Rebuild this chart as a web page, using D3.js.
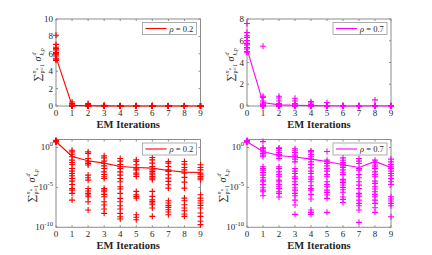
<!DOCTYPE html>
<html>
<head>
<meta charset="utf-8">
<script src="https://cdn.jsdelivr.net/npm/d3@7"></script>
<style>
    body { margin: 0; background: #fff; }
    svg { display: block; }
    svg text { font-family: "Liberation Serif", "Times New Roman", Times, serif; fill: #262626; }
</style>
</head>
<body>
<svg id="chart" width="432" height="255" font-family="Liberation Serif, Times New Roman, serif"></svg>
<script>
// EM iterations on the x axis
var iterations = [0, 1, 2, 3, 4, 5, 6, 7, 8, 9];

// log10 of the error of each run, per iteration (rho = 0.2)
var rho02Runs = [
    [0.72, 0.73, 0.74, 0.76, 0.77, 0.78, 0.79, 0.81, 0.82, 0.83, 0.85, 0.91],
    [-0.34, -0.55, -0.84, -1.17, -1.59, -1.88, -2.13, -2.63, -2.96, -3.26, -3.55, -3.88, -4.21, -4.63, -5.13, -5.34, -5.75, -6.59],
    [-0.55, -0.75, -1.38, -1.8, -2.0, -2.2, -3.46, -3.8, -4.09, -5.13, -5.46, -5.75, -5.96, -6.17, -6.8, -7.84],
    [-1.05, -1.3, -1.71, -2.0, -2.3, -2.63, -3.05, -3.38, -3.67, -3.88, -5.13, -5.34, -5.55, -5.88, -6.17, -6.8, -7.21, -7.71, -8.25],
    [-1.38, -1.71, -2.13, -2.42, -2.63, -3.05, -3.46, -3.88, -4.3, -4.92, -5.21, -5.75, -6.38, -6.8, -7.3, -7.71, -8.25, -8.67, -8.96],
    [-1.55, -1.75, -2.17, -2.59, -2.8, -3.21, -3.42, -3.63, -5.5, -5.92, -6.13, -6.34, -8.42, -8.75, -9.05],
    [-1.25, -1.55, -1.96, -2.38, -2.8, -3.0, -3.21, -3.42, -3.63, -3.84, -4.05, -5.5, -6.13, -6.55, -6.75, -6.96, -7.17, -7.59, -8.63],
    [-1.75, -1.96, -2.38, -2.8, -3.0, -3.42, -3.84, -4.25, -4.67, -5.09, -6.67, -6.96, -7.25, -7.5, -7.8, -8.09, -8.42],
    [-1.75, -2.09, -2.5, -2.8, -3.21, -3.75, -4.34, -5.09, -6.34, -6.67, -7.17, -7.59, -7.92, -8.34, -8.63],
    [-2.17, -2.5, -2.8, -3.21, -3.42, -3.63, -3.84, -4.05, -5.92, -6.34, -6.67, -6.96, -7.25, -7.59, -8.21, -8.63, -9.25, -9.67]
];
var rho02Mean = [0.75, -1.13, -1.67, -1.96, -2.38, -2.5, -2.59, -2.88, -3.09, -3.13];

// log10 of the error of each run, per iteration (rho = 0.7)
var rho07Runs = [
    [0.69, 0.70, 0.72, 0.73, 0.75, 0.76, 0.78, 0.80, 0.81, 0.83, 0.88],
    [0.74, -0.05, -0.1, -0.34, -0.55, -0.75, -0.96, -1.17, -2.42, -2.63, -2.84, -3.13, -3.46, -3.8, -4.09, -4.3, -4.63, -5.05, -5.34, -5.55, -6.05],
    [-0.05, -0.13, -0.34, -0.63, -0.88, -1.05, -1.38, -2.42, -2.63, -3.05, -3.38, -3.67, -4.09, -4.3, -4.63, -4.92, -5.13, -5.55, -5.75, -6.2],
    [-0.15, -0.34, -0.63, -0.96, -1.17, -1.46, -1.8, -2.63, -2.96, -3.26, -3.67, -3.88, -4.3, -4.63, -5.05, -5.34, -5.75, -6.05, -6.59, -7.21, -8.38],
    [-0.4, -0.55, -0.88, -1.17, -1.46, -1.8, -2.13, -2.55, -2.96, -3.26, -3.67, -3.96, -4.3, -4.8, -5.13, -5.34, -5.88, -6.46, -7.84, -8.13, -8.38],
    [-0.5, -1.59, -1.8, -2.0, -2.3, -2.63, -2.96, -3.38, -3.67, -4.3, -4.63, -4.92, -5.34, -5.63, -5.96, -6.38, -8.13],
    [-1.3, -1.6, -1.9, -2.1, -2.3, -2.5, -2.8, -3.1, -3.4, -4.0, -4.2, -4.4, -4.7, -5.0, -5.3, -5.6, -6.2, -6.5, -6.9],
    [-1.38, -1.71, -2.0, -2.63, -2.84, -3.38, -3.8, -4.3, -4.71, -5.13, -5.75, -5.96, -6.17, -6.59, -7.0, -7.3, -7.84, -9.38],
    [-0.25, -1.59, -1.88, -2.2, -2.42, -2.63, -3.05, -3.38, -3.67, -4.21, -4.5, -4.92, -5.21, -5.55, -5.88, -6.17, -6.59, -7.0, -7.55, -8.13],
    [-1.46, -1.8, -2.13, -2.42, -2.63, -2.96, -3.26, -3.55, -3.88, -4.3, -4.63, -6.17, -6.46, -6.71, -7.0, -7.3, -8.67]
];
var rho07Mean = [0.72, -0.5, -1.0, -1.2, -1.46, -1.75, -2.17, -2.5, -1.75, -2.5];

var linTicks02 = [0, 2, 4, 6, 8, 10];
var linTicks07 = [0, 2, 4, 6, 8];
var logTicks = [0, -5, -10];

var svg = d3.select("#chart");
var axisGrey = "#8c8c8c";
var serif = "Liberation Serif, Times New Roman, serif";

function drawPanel(p) {
    var x = d3.scaleLinear().domain([0, 9]).range([p.left, p.right]);
    var y;
    if (p.log) {
        y = d3.scaleLog().domain([1e-10, 10]).range([p.bottom, p.top]);
    } else {
        y = d3.scaleLinear().domain([0, p.ymax]).range([p.bottom, p.top]);
    }
    var g = svg.append("g").attr("font-family", serif);

    // box
    g.append("rect")
        .attr("x", p.left).attr("y", p.top)
        .attr("width", p.right - p.left).attr("height", p.bottom - p.top)
        .attr("fill", "#fff").attr("stroke", axisGrey).attr("stroke-width", 1);

    // x ticks (bottom + top, inward)
    iterations.forEach(function (i) {
        var xx = x(i);
        g.append("line").attr("x1", xx).attr("x2", xx).attr("y1", p.bottom).attr("y2", p.bottom - 2)
            .attr("stroke", axisGrey);
        g.append("line").attr("x1", xx).attr("x2", xx).attr("y1", p.top).attr("y2", p.top + 2)
            .attr("stroke", axisGrey);
        g.append("text").attr("x", xx).attr("y", p.bottom + 10)
            .attr("text-anchor", "middle").attr("font-size", 9).text(i);
    });

    // y ticks
    var yt = p.log ? logTicks.map(function (e) { return Math.pow(10, e); }) : p.ticks;
    yt.forEach(function (v, k) {
        var yy = y(v);
        g.append("line").attr("x1", p.left).attr("x2", p.left + 2).attr("y1", yy).attr("y2", yy)
            .attr("stroke", axisGrey);
        g.append("line").attr("x1", p.right).attr("x2", p.right - 2).attr("y1", yy).attr("y2", yy)
            .attr("stroke", axisGrey);
        var t = g.append("text").attr("x", p.left - 3).attr("y", yy + 3)
            .attr("text-anchor", "end").attr("font-size", 9);
        if (p.log) {
            t.append("tspan").text("10");
            t.append("tspan").attr("dy", -4).attr("font-size", 6.5).text(logTicks[k]);
        } else {
            t.text(v);
        }
    });

    // scatter of the runs
    var runs = [];
    p.runs.forEach(function (vals, i) {
        vals.forEach(function (e) { runs.push({it: i, v: Math.pow(10, e)}); });
    });
    g.selectAll(".run").data(runs).enter().append("path")
        .attr("class", "run")
        .attr("d", function (d) {
            var cx = x(d.it), cy = y(d.v);
            return "M" + (cx - 3) + "," + cy + "H" + (cx + 3) + "M" + cx + "," + (cy - 3) + "V" + (cy + 3);
        })
        .attr("stroke", p.color).attr("stroke-width", 1.1).attr("fill", "none");

    // mean line
    var line = d3.line()
        .x(function (d, i) { return x(iterations[i]); })
        .y(function (d) { return y(Math.pow(10, d)); });
    g.append("path").datum(p.mean)
        .attr("d", line)
        .attr("fill", "none").attr("stroke", p.color).attr("stroke-width", 1.1);

    // legend
    var lx = p.right - 58, ly = p.top + 3.5;
    g.append("rect").attr("x", lx).attr("y", ly).attr("width", 54).attr("height", 12)
        .attr("fill", "#fff").attr("stroke", "#9a9a9a").attr("stroke-width", 0.8);
    g.append("line").attr("x1", lx + 3).attr("x2", lx + 24).attr("y1", ly + 6).attr("y2", ly + 6)
        .attr("stroke", p.color).attr("stroke-width", 1.1);
    var lt = g.append("text").attr("x", lx + 27).attr("y", ly + 9).attr("font-size", 8.5);
    lt.append("tspan").attr("font-style", "italic").text("\u03c1");
    lt.append("tspan").text(" = " + p.label);

    // x label
    g.append("text").attr("x", (p.left + p.right) / 2).attr("y", p.bottom + 22)
        .attr("text-anchor", "middle").attr("font-size", 10.5).attr("font-weight", "bold")
        .text("EM Iterations");

    // y label: sum_{p=1}^{n_u} sigma^d_{k,p}
    var yl = g.append("g")
        .attr("transform", "translate(" + p.labelX + "," + ((p.top + p.bottom) / 2 + 3) + ") rotate(-90)");
    yl.append("text").attr("x", -16).attr("y", 0).attr("font-size", 11).text("\u2211");
    yl.append("text").attr("x", -8).attr("y", 3).attr("font-size", 6).text("p=1");
    yl.append("text").attr("x", -8).attr("y", -5).attr("font-size", 6).attr("font-style", "italic").text("n");
    yl.append("text").attr("x", -4.8).attr("y", -3.5).attr("font-size", 4.5).attr("font-style", "italic").text("u");
    yl.append("text").attr("x", 4).attr("y", 0).attr("font-size", 10).attr("font-style", "italic").text("\u03c3");
    yl.append("text").attr("x", 10).attr("y", -5).attr("font-size", 6).attr("font-style", "italic").text("d");
    yl.append("text").attr("x", 10).attr("y", 3).attr("font-size", 6).attr("font-style", "italic").text("k,p");
}

drawPanel({left: 56, right: 200.5, top: 19, bottom: 106, ymax: 10, ticks: linTicks02, log: false,
    runs: rho02Runs, mean: rho02Mean, color: "#ff0000", label: "0.2", labelX: 41});
drawPanel({left: 247, right: 391, top: 19, bottom: 106, ymax: 8, ticks: linTicks07, log: false,
    runs: rho07Runs, mean: rho07Mean, color: "#ff00ff", label: "0.7", labelX: 234});
drawPanel({left: 56, right: 200.5, top: 139.5, bottom: 227.3, log: true,
    runs: rho02Runs, mean: rho02Mean, color: "#ff0000", label: "0.2", labelX: 35});
drawPanel({left: 247, right: 391, top: 139.5, bottom: 227.3, log: true,
    runs: rho07Runs, mean: rho07Mean, color: "#ff00ff", label: "0.7", labelX: 226});
</script>
</body>
</html>
